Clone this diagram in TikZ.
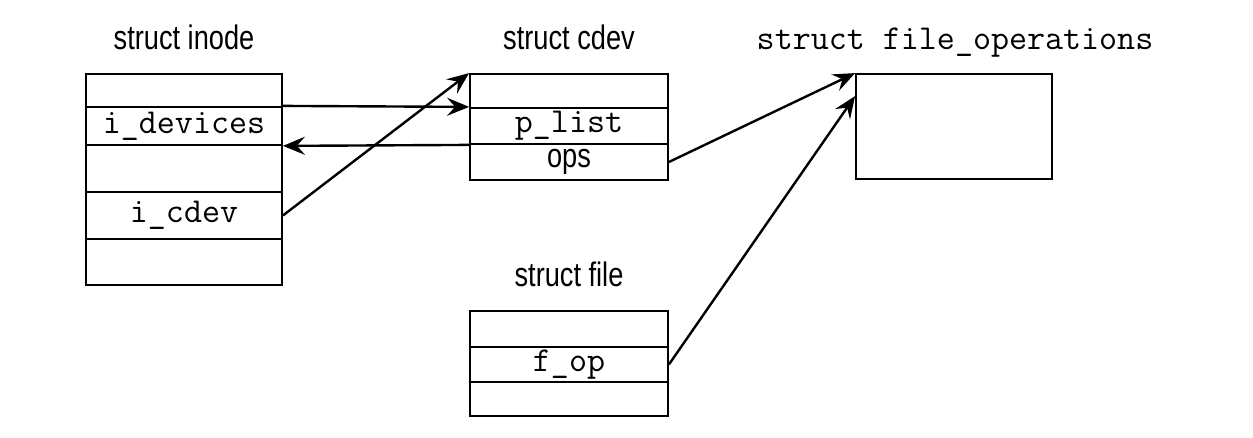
\documentclass[tikz,border=0pt]{standalone}
\usepackage{fontspec}
\newfontfamily\condsans[FakeStretch=0.8]{Liberation Sans}
\usepackage{tikz}
\usetikzlibrary{arrows.meta}
\tikzset{
  structtitle/.style={anchor=base,inner sep=0pt,font=\fontsize{17}{19}\selectfont\condsans},
  monotitle/.style={anchor=base,inner sep=0pt,font=\fontsize{17.5}{20}\selectfont\ttfamily},
  field/.style={draw,line width=0.9pt,inner sep=0pt,minimum width=98pt,font=\fontsize{17.5}{20}\selectfont\ttfamily},
  sffield/.style={field,font=\fontsize{17}{19}\selectfont\condsans},
  ptr/.style={-{Stealth[length=11pt,width=9pt,inset=4pt]},line width=1.2pt},
}
\begin{document}
\begin{tikzpicture}[x=0.5pt,y=-0.5pt]
  \useasboundingbox (0,0) rectangle (1253,438);
  % struct inode
  \node[structtitle] (tinode) at (184,50) {struct inode};
  \node[field,minimum height=16.5pt] (in1) at (184,90.5) {};
  \node[field,minimum height=19pt] (in2) at (184,126) {i\_devices};
  \node[field,minimum height=23.5pt] (in3) at (184,168.5) {};
  \node[field,minimum height=23.5pt] (in4) at (184,215.5) {i\_cdev};
  \node[field,minimum height=23pt] (in5) at (184,262) {};
  % struct cdev
  \node[structtitle] (tcdev) at (569,50) {struct cdev};
  \node[field,minimum width=99pt,minimum height=17pt] (cd1) at (569,91) {};
  \node[field,minimum width=99pt,minimum height=18pt] (cd2) at (569,126) {p\_list};
  \node[sffield,minimum width=99pt,minimum height=18pt] (cd3) at (569,162) {ops};
  % struct file_operations
  \node[monotitle] (tfops) at (955,50) {struct file\_operations};
  \node[field,minimum height=52.5pt] (fops) at (954,126.5) {};
  % struct file
  \node[structtitle] (tfile) at (569,286) {struct file};
  \node[field,minimum width=99pt,minimum height=18pt] (fi1) at (569,329) {};
  \node[field,minimum width=99pt,minimum height=17.5pt] (fi2) at (569,364.5) {f\_op};
  \node[field,minimum width=99pt,minimum height=17pt] (fi3) at (569,399) {};
  % pointers
  \draw[ptr] ([yshift=1pt]in1.south east) -- ([yshift=1pt]cd1.south west);
  \draw[ptr] (cd2.south west) -- (in2.south east);
  \draw[ptr] (in4.east) -- (cd1.north west);
  \draw[ptr] (cd3.east) -- (fops.north west);
  \draw[ptr] (fi2.east) -- ([yshift=-11.5pt]fops.north west);
\end{tikzpicture}
\end{document}
